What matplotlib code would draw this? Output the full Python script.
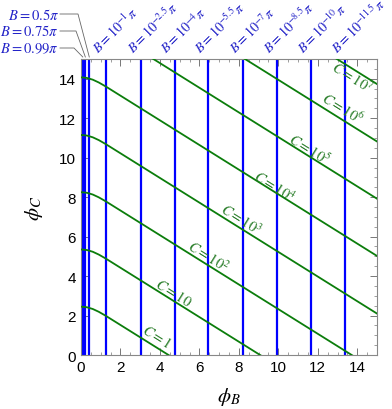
import matplotlib

matplotlib.use("Agg")
import matplotlib.pyplot as plt

matplotlib.rcParams.update({
    "font.family": "Liberation Sans",
    "mathtext.fontset": "stix",
    "font.size": 11,
})

# Vertical contours of constant B (phi_B positions)
B_LABELS = ["0.99\\pi", "0.75\\pi", "0.5\\pi",
            "10^{-1}\\pi", "10^{-2.5}\\pi", "10^{-4}\\pi", "10^{-5.5}\\pi",
            "10^{-7}\\pi", "10^{-8.5}\\pi", "10^{-10}\\pi", "10^{-11.5}\\pi"]
B_PHI = [0.09, 0.22, 0.42, 1.27, 3.03, 4.75, 6.45, 8.2, 9.95, 11.67, 13.4]

# Contours of constant C: phi_C sampled at these phi_B values
C_PHI_B = [0.0, 0.3, 0.6, 0.9, 1.25, 15.0]
C_LABELS = ["1", "10", "10^2", "10^3", "10^4", "10^5", "10^6", "10^7"]
C_PHI_C = [
    [2.45, 2.42, 2.33, 2.19, 1.99, -6.60],
    [5.35, 5.32, 5.23, 5.09, 4.89, -3.70],
    [8.25, 8.22, 8.13, 7.99, 7.79, -0.80],
    [11.15, 11.12, 11.03, 10.89, 10.69, 2.10],
    [14.07, 14.04, 13.95, 13.81, 13.61, 5.02],
    [16.97, 16.94, 16.85, 16.71, 16.51, 7.92],
    [19.87, 19.84, 19.75, 19.61, 19.41, 10.82],
    [22.78, 22.75, 22.66, 22.52, 22.32, 13.73],
]
# where each C label sits (phi_B, phi_C)
C_LABEL_POS = [(3.84, 0.95), (4.68, 3.18), (6.45, 5.0), (8.09, 6.89),
               (9.78, 8.58), (11.57, 10.44), (13.26, 12.53), (13.72, 14.1)]

BLUE = "#0000ff"
BLUE_TXT = "#2424c8"
GREEN = "#0b7d0b"
GREEN_TXT = "#247a24"

fig = plt.figure(figsize=(3.92, 4.10), dpi=100)
ax = fig.add_axes([0.2066, 0.1317, 0.7551, 0.722])

for phi in B_PHI:
    ax.axvline(phi, color=BLUE, lw=1.6, zorder=2)

for vals in C_PHI_C:
    ax.plot(C_PHI_B, vals, color=GREEN, lw=1.3, zorder=3)

for lab, (x, y) in zip(C_LABELS, C_LABEL_POS):
    ax.text(x, y, f"$C = {lab}$", color=GREEN_TXT, fontsize=10.5, rotation=-32,
            rotation_mode="anchor", ha="center", va="center", zorder=4)

# rotated labels for the small-B lines
for lab, phi in zip(B_LABELS[3:], B_PHI[3:]):
    ax.annotate(f"$B = {lab}$", xy=(phi, 15), xytext=(-4, 2), textcoords="offset points",
                color=BLUE_TXT, fontsize=10, rotation=45, rotation_mode="anchor",
                ha="left", va="bottom", annotation_clip=False)

# leader-line labels for the three B near pi
for i, (lab, phi) in enumerate(zip(B_LABELS[:3], B_PHI[:3])):
    y_px = [49, 32, 15][i]
    x_end = [74, 76, 78][i]
    y_fig = 1 - y_px / 410
    fig.text(59 / 392, y_fig, f"$B = {lab}$", color=BLUE_TXT, fontsize=10.5,
             ha="right", va="center")
    line_x = [60 / 392, x_end / 392, (81 + phi * 19.73) / 392]
    line_y = [y_fig, y_fig, 1 - 58 / 410]
    fig.add_artist(plt.Line2D(line_x, line_y, color="#666666", lw=0.6))

ax.set_xlim(0, 15)
ax.set_ylim(0, 15)
ax.set_xticks(range(0, 15, 2))
ax.set_yticks(range(0, 15, 2))
ax.set_xticks([i * 0.5 for i in range(31)], minor=True)
ax.set_yticks([i * 0.5 for i in range(31)], minor=True)
ax.tick_params(which="both", direction="in", top=True, right=True, color="#777777")
ax.tick_params(which="major", length=5, width=0.7)
ax.tick_params(which="minor", length=2.5, width=0.5)
for sp in ax.spines.values():
    sp.set_color("#888888")
    sp.set_linewidth(0.8)

ax.set_xlabel("$\\phi_B$", fontsize=15, labelpad=8)
ax.set_ylabel("$\\phi_C$", fontsize=15, labelpad=10)

fig.savefig("out.png", dpi=100)
